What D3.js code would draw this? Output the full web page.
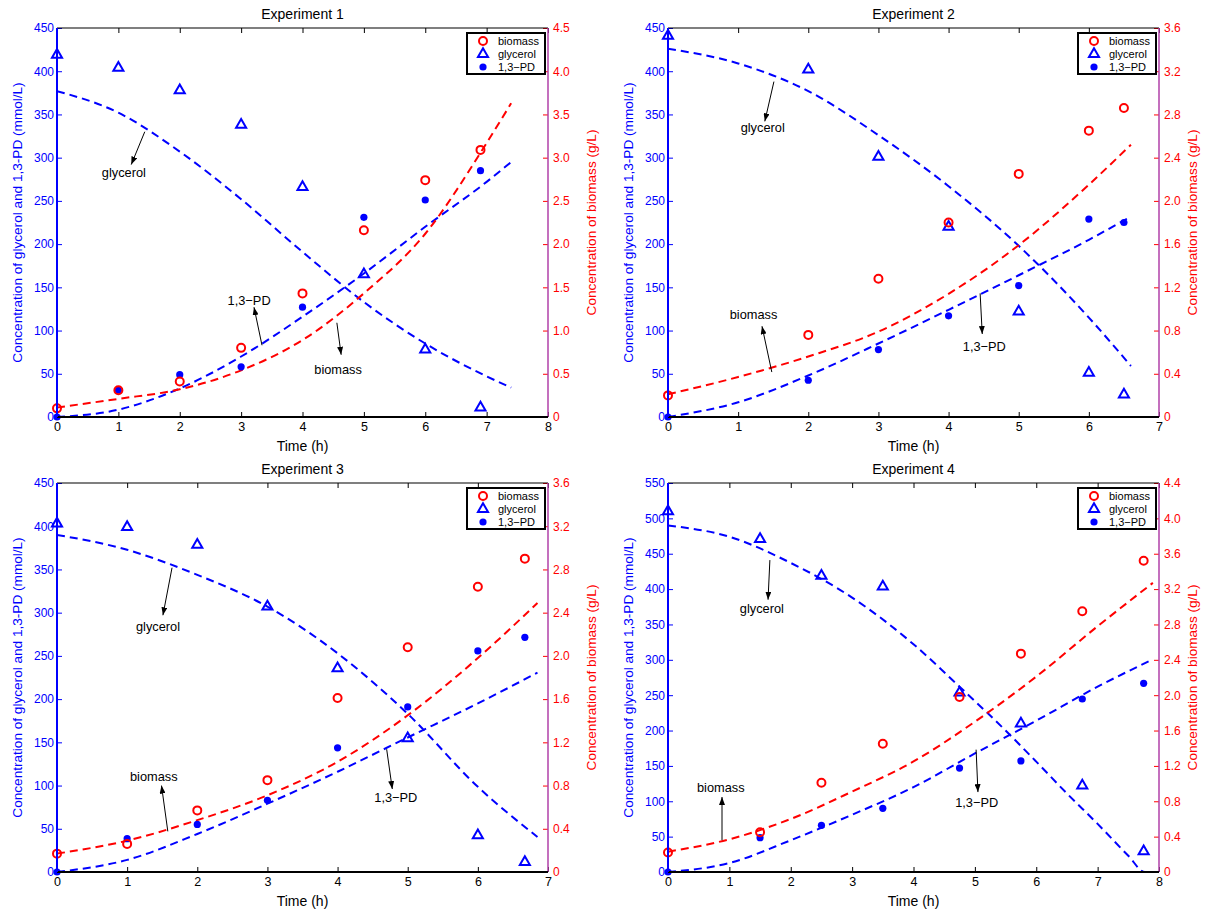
<!DOCTYPE html>
<html><head><meta charset="utf-8">
<script src="https://cdn.jsdelivr.net/npm/d3@7"></script>
<style>
body{margin:0;background:#fff}
text{font-family:"Liberation Sans",Arial,Helvetica,sans-serif}
</style>
</head><body>
<svg id="chart" width="1205" height="912"></svg>
<script>
// ---------------- DATA ----------------
const legendLabels = ["biomass", "glycerol", "1,3-PD"];
const xAxisTitle = "Time (h)";
const leftAxisTitle = "Concentration of glycerol and 1,3-PD (mmol/L)";
const rightAxisTitle = "Concentration of biomass (g/L)";

// Experiment 1
const exp1Time = [0, 1, 2, 3, 4, 5, 6, 6.9];
const exp1Glycerol = [419, 404, 378, 338, 266, 165, 78, 11];
const exp1PD = [0, 31, 49, 58, 127, 231, 251, 285];
const exp1Biomass = [0.10, 0.31, 0.41, 0.80, 1.43, 2.16, 2.74, 3.09];
const exp1FitTime = [0, 1, 2, 3, 4, 5, 6, 7, 7.4];
const exp1GlycerolFitTime = exp1FitTime;
const exp1GlycerolFit = [377, 352, 307, 252, 191, 133, 85, 47, 34];
const exp1PDFit = [0, 8.5, 33, 70, 116, 166, 220, 272, 295];
const exp1BiomassFit = [0.11, 0.21, 0.32, 0.54, 0.89, 1.43, 2.12, 3.17, 3.63];

// Experiment 2
const exp2Time = [0, 2, 3, 4, 5, 6, 6.5];
const exp2Glycerol = [441, 402, 301, 220, 122, 51, 26];
const exp2PD = [0, 42.5, 78, 117, 152, 229, 225];
const exp2Biomass = [0.20, 0.76, 1.28, 1.80, 2.25, 2.65, 2.86];
const exp2FitTime = [0, 1, 2, 3, 4, 5, 6, 6.6];
const exp2GlycerolFitTime = exp2FitTime;
const exp2GlycerolFit = [426, 409, 377, 326, 267, 198, 115, 59];
const exp2PDFit = [0, 17, 48, 85, 124, 164, 205, 232];
const exp2BiomassFit = [0.21, 0.37, 0.56, 0.79, 1.14, 1.59, 2.15, 2.52];

// Experiment 3
const exp3Time = [0, 1, 2, 3, 4, 5, 6, 6.67];
const exp3Glycerol = [403, 399, 378.5, 307, 235.6, 154.5, 42.5, 11.6];
const exp3PD = [0, 38.6, 55, 83, 143.7, 191, 255.7, 271.5];
const exp3Biomass = [0.17, 0.26, 0.57, 0.85, 1.61, 2.08, 2.64, 2.90];
const exp3FitTime = [0, 1, 2, 3, 4, 5, 6, 6.85];
const exp3GlycerolFitTime = exp3FitTime;
const exp3GlycerolFit = [390, 372.7, 343.7, 307, 253, 183, 98.5, 40.5];
const exp3PDFit = [0, 14, 44, 79, 116, 155.6, 195, 230.6];
const exp3BiomassFit = [0.17, 0.29, 0.48, 0.71, 1.02, 1.45, 1.98, 2.49];

// Experiment 4
const exp4Time = [0, 1.5, 2.5, 3.5, 4.75, 5.75, 6.75, 7.75];
const exp4Glycerol = [510, 470.7, 418.8, 403.7, 253.5, 210, 122.3, 29.3];
const exp4PD = [0, 48.6, 66, 90, 147, 157, 244.6, 266.8];
const exp4Biomass = [0.22, 0.45, 1.01, 1.45, 1.98, 2.47, 2.95, 3.52];
const exp4FitTime = [0, 1, 2, 3, 4, 5, 6, 7, 7.9];
const exp4GlycerolFitTime = [0, 1, 2, 3, 4, 4.75, 5.5, 6, 6.5, 7, 7.5, 7.77, 7.9];
const exp4GlycerolFit = [490, 474, 437, 388, 322, 262, 200, 156, 111, 68, 23, 0, 0];
const exp4PDFit = [0, 12.7, 44.9, 81, 120, 167.6, 213.9, 262, 300.7];
const exp4BiomassFit = [0.23, 0.37, 0.60, 0.91, 1.25, 1.70, 2.21, 2.78, 3.27];

// Axis ranges and ticks
const titles = ["Experiment 1", "Experiment 2", "Experiment 3", "Experiment 4"];
const xMaxes = [8, 7, 7, 8];
const leftMaxes = [450, 450, 450, 550];
const rightMaxes = [4.5, 3.6, 3.6, 4.4];
const leftTickStep = 50;
const rightTickSteps = [0.5, 0.4, 0.4, 0.4];

// Annotations (data units of time / left axis): text pos, arrow from -> to
const exp1Notes = [
  {text: "glycerol", t: 1.09, v: 283, t1: 1.43, v1: 330, t2: 1.21, v2: 292},
  {text: "1,3\u2212PD", t: 3.13, v: 135, t1: 3.34, v1: 83, t2: 3.21, v2: 127},
  {text: "biomass", t: 4.58, v: 55, t1: 4.56, v1: 109, t2: 4.63, v2: 72}
];
const exp2Notes = [
  {text: "glycerol", t: 1.35, v: 335, t1: 1.51, v1: 388, t2: 1.38, v2: 342},
  {text: "biomass", t: 1.22, v: 119, t1: 1.48, v1: 52, t2: 1.34, v2: 105},
  {text: "1,3\u2212PD", t: 4.51, v: 81, t1: 4.45, v1: 143, t2: 4.48, v2: 96}
];
const exp3Notes = [
  {text: "glycerol", t: 1.44, v: 284, t1: 1.64, v1: 352, t2: 1.51, v2: 297},
  {text: "biomass", t: 1.38, v: 110, t1: 1.58, v1: 47, t2: 1.49, v2: 100},
  {text: "1,3\u2212PD", t: 4.83, v: 86, t1: 4.70, v1: 142, t2: 4.78, v2: 96}
];
const exp4Notes = [
  {text: "glycerol", t: 1.53, v: 373, t1: 1.66, v1: 441, t2: 1.63, v2: 385},
  {text: "biomass", t: 0.86, v: 119, t1: 0.88, v1: 45, t2: 0.88, v2: 106},
  {text: "1,3\u2212PD", t: 5.03, v: 98, t1: 5.02, v1: 173, t2: 5.05, v2: 113}
];

// ---------------- BUILD ----------------
const experiments = [
  {time: exp1Time, gly: exp1Glycerol, pd: exp1PD, bio: exp1Biomass, fitT: exp1FitTime, glyFitT: exp1GlycerolFitTime, glyFit: exp1GlycerolFit, pdFit: exp1PDFit, bioFit: exp1BiomassFit, notes: exp1Notes},
  {time: exp2Time, gly: exp2Glycerol, pd: exp2PD, bio: exp2Biomass, fitT: exp2FitTime, glyFitT: exp2GlycerolFitTime, glyFit: exp2GlycerolFit, pdFit: exp2PDFit, bioFit: exp2BiomassFit, notes: exp2Notes},
  {time: exp3Time, gly: exp3Glycerol, pd: exp3PD, bio: exp3Biomass, fitT: exp3FitTime, glyFitT: exp3GlycerolFitTime, glyFit: exp3GlycerolFit, pdFit: exp3PDFit, bioFit: exp3BiomassFit, notes: exp3Notes},
  {time: exp4Time, gly: exp4Glycerol, pd: exp4PD, bio: exp4Biomass, fitT: exp4FitTime, glyFitT: exp4GlycerolFitTime, glyFit: exp4GlycerolFit, pdFit: exp4PDFit, bioFit: exp4BiomassFit, notes: exp4Notes}
];

const svg = d3.select("#chart");
const W = 491, H = 389;
const origins = [[57, 28], [668, 28], [57, 483], [668, 483]];
const rightTitleOffsets = [43, 33, 43, 33];
const BLUE = "#0000ff", RED = "#ff0000";

const defs = svg.append("defs");
defs.append("marker").attr("id", "arrowhead")
  .attr("markerUnits", "userSpaceOnUse")
  .attr("markerWidth", 8).attr("markerHeight", 6)
  .attr("refX", 8).attr("refY", 3).attr("orient", "auto")
  .append("path").attr("d", "M0,0 L8,3 L0,6 Z").attr("fill", "#000");

function rangeTicks(max, step) {
  const n = Math.round(max / step);
  return d3.range(n + 1).map(i => +(i * step).toFixed(3));
}

experiments.forEach((exp, i) => {
  const [ox, oy] = origins[i];
  const g = svg.append("g");
  const x = d3.scaleLinear().domain([0, xMaxes[i]]).range([ox, ox + W]);
  const yL = d3.scaleLinear().domain([0, leftMaxes[i]]).range([oy + H, oy]);
  const yR = d3.scaleLinear().domain([0, rightMaxes[i]]).range([oy + H, oy]);

  defs.append("clipPath").attr("id", "clip" + i)
    .append("rect").attr("x", ox).attr("y", oy).attr("width", W).attr("height", H);

  const plot = g.append("g").attr("clip-path", `url(#clip${i})`);

  // fitted curves
  const lineL = d3.line().x(d => x(d[0])).y(d => yL(d[1])).curve(d3.curveMonotoneX);
  const lineR = d3.line().x(d => x(d[0])).y(d => yR(d[1])).curve(d3.curveMonotoneX);
  const dash = "8,5";
  plot.append("path").datum(d3.zip(exp.glyFitT, exp.glyFit)).attr("d", lineL)
    .attr("fill", "none").attr("stroke", BLUE).attr("stroke-width", 2).attr("stroke-dasharray", dash);
  plot.append("path").datum(d3.zip(exp.fitT, exp.pdFit)).attr("d", lineL)
    .attr("fill", "none").attr("stroke", BLUE).attr("stroke-width", 2).attr("stroke-dasharray", dash);
  plot.append("path").datum(d3.zip(exp.fitT, exp.bioFit)).attr("d", lineR)
    .attr("fill", "none").attr("stroke", RED).attr("stroke-width", 2).attr("stroke-dasharray", dash);

  // markers
  const tri = d3.symbol().type(d3.symbolTriangle).size(44);
  g.append("g").selectAll("path").data(d3.zip(exp.time, exp.gly)).join("path")
    .attr("d", tri).attr("transform", d => `translate(${x(d[0])},${yL(d[1])})`)
    .attr("fill", "none").attr("stroke", BLUE).attr("stroke-width", 2);
  g.append("g").selectAll("circle").data(d3.zip(exp.time, exp.pd)).join("circle")
    .attr("cx", d => x(d[0])).attr("cy", d => yL(d[1])).attr("r", 3.6).attr("fill", BLUE);
  g.append("g").selectAll("circle").data(d3.zip(exp.time, exp.bio)).join("circle")
    .attr("cx", d => x(d[0])).attr("cy", d => yR(d[1])).attr("r", 4)
    .attr("fill", "none").attr("stroke", RED).attr("stroke-width", 2);

  // axes
  const xTicks = d3.range(0, xMaxes[i] + 1);
  const gx = g.append("g").attr("transform", `translate(0,${oy + H})`)
    .call(d3.axisBottom(x).tickValues(xTicks).tickFormat(d3.format("d")).tickSizeInner(-5).tickSizeOuter(0).tickPadding(5));
  gx.select(".domain").remove();
  gx.selectAll("line").attr("stroke", "#000");
  gx.selectAll("text").attr("fill", "#000").style("font-size", "12.5px");

  const gt = g.append("g").attr("transform", `translate(0,${oy})`)
    .call(d3.axisTop(x).tickValues(xTicks).tickFormat("").tickSizeInner(-5).tickSizeOuter(0));
  gt.select(".domain").remove();
  gt.selectAll("line").attr("stroke", "#000");

  const gl = g.append("g").attr("transform", `translate(${ox},0)`)
    .call(d3.axisLeft(yL).tickValues(rangeTicks(leftMaxes[i], leftTickStep)).tickFormat(d3.format("d")).tickSizeInner(-5).tickSizeOuter(0).tickPadding(3));
  gl.select(".domain").remove();
  gl.selectAll("line").attr("stroke", BLUE);
  gl.selectAll("text").attr("fill", BLUE).style("font-size", "12px");

  const rfmt = v => v === 0 ? "0" : d3.format(".1f")(v);
  const gr = g.append("g").attr("transform", `translate(${ox + W},0)`)
    .call(d3.axisRight(yR).tickValues(rangeTicks(rightMaxes[i], rightTickSteps[i])).tickFormat(rfmt).tickSizeInner(-5).tickSizeOuter(0).tickPadding(5));
  gr.select(".domain").remove();
  gr.selectAll("line").attr("stroke", RED);
  gr.selectAll("text").attr("fill", RED).style("font-size", "12px");

  // frame
  g.append("line").attr("x1", ox).attr("x2", ox + W).attr("y1", oy).attr("y2", oy).attr("stroke", "#000").attr("stroke-width", 1.2);
  g.append("line").attr("x1", ox + W).attr("x2", ox + W).attr("y1", oy).attr("y2", oy + H).attr("stroke", "#b040a8").attr("stroke-width", 1.5);
  g.append("line").attr("x1", ox).attr("x2", ox + W).attr("y1", oy + H).attr("y2", oy + H).attr("stroke", "#000").attr("stroke-width", 2);
  g.append("line").attr("x1", ox).attr("x2", ox).attr("y1", oy).attr("y2", oy + H).attr("stroke", BLUE).attr("stroke-width", 2);

  // titles
  g.append("text").attr("x", ox + W / 2).attr("y", oy - 14).attr("dy", "0.35em")
    .attr("text-anchor", "middle").style("font-size", "14px").attr("fill", "#000").text(titles[i]);
  g.append("text").attr("x", ox + W / 2).attr("y", oy + H + 29).attr("dy", "0.35em")
    .attr("text-anchor", "middle").style("font-size", "14px").attr("fill", "#000").text(xAxisTitle);
  g.append("text").attr("transform", `translate(${ox - 40},${oy + H / 2}) rotate(-90)`).attr("dy", "0.35em")
    .attr("text-anchor", "middle").style("font-size", "13.6px").attr("fill", BLUE).text(leftAxisTitle);
  g.append("text").attr("transform", `translate(${ox + W + rightTitleOffsets[i]},${oy + H / 2}) rotate(-90)`).attr("dy", "0.35em")
    .attr("text-anchor", "middle").style("font-size", "13.6px").attr("fill", RED).text(rightAxisTitle);

  // annotations
  exp.notes.forEach(n => {
    g.append("line").attr("x1", x(n.t1)).attr("y1", yL(n.v1)).attr("x2", x(n.t2)).attr("y2", yL(n.v2))
      .attr("stroke", "#000").attr("stroke-width", 1).attr("marker-end", "url(#arrowhead)");
    g.append("text").attr("x", x(n.t)).attr("y", yL(n.v)).attr("dy", "0.35em")
      .attr("text-anchor", "middle").style("font-size", "12.8px").attr("fill", "#000").text(n.text);
  });

  // legend
  const lw = 78, lh = 41;
  const lx = ox + W - 3 - lw, ly = oy + 5;
  const lg = g.append("g");
  lg.append("rect").attr("x", lx).attr("y", ly).attr("width", lw).attr("height", lh)
    .attr("fill", "#fff").attr("stroke", "#000").attr("stroke-width", 2);
  const rows = [8, 21, 34];
  lg.append("circle").attr("cx", lx + 16).attr("cy", ly + rows[0]).attr("r", 4)
    .attr("fill", "none").attr("stroke", RED).attr("stroke-width", 2);
  lg.append("path").attr("d", tri).attr("transform", `translate(${lx + 16},${ly + rows[1]})`)
    .attr("fill", "none").attr("stroke", BLUE).attr("stroke-width", 2);
  lg.append("circle").attr("cx", lx + 16).attr("cy", ly + rows[2]).attr("r", 3.6).attr("fill", BLUE);
  legendLabels.forEach((lab, k) => {
    lg.append("text").attr("x", lx + 31).attr("y", ly + rows[k]).attr("dy", "0.35em")
      .style("font-size", "11px").attr("fill", "#000").text(lab.replace("-", "\u2212"));
  });
});
</script>
</body></html>
